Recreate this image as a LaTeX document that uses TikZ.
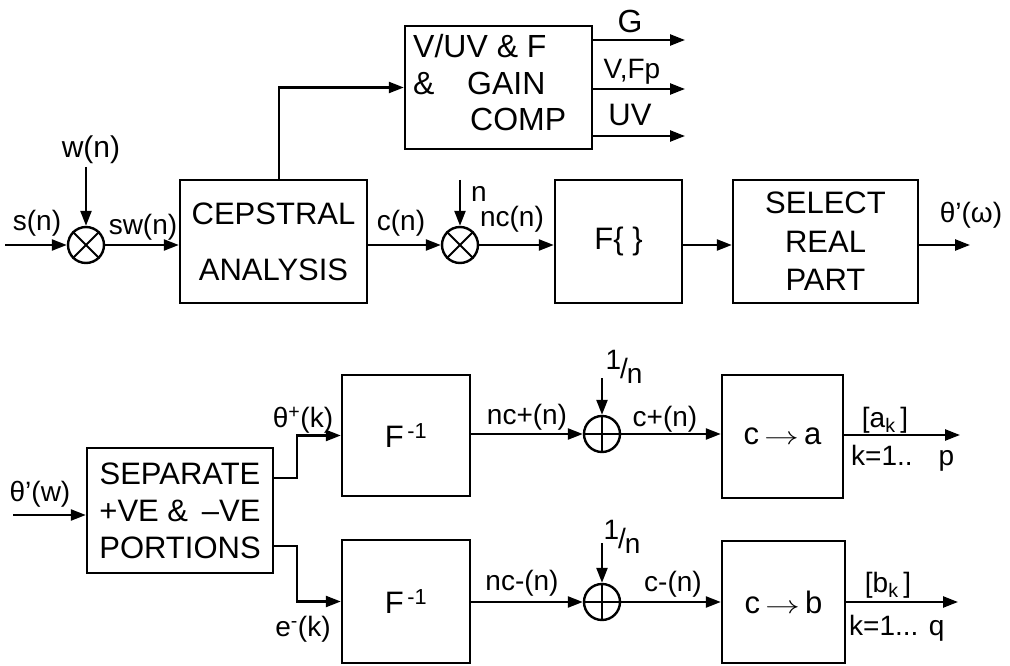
\documentclass[tikz,border=0pt]{standalone}
\usepackage{fontspec}
\setmainfont{Liberation Sans}
\usetikzlibrary{arrows.meta}
\begin{document}
\begin{tikzpicture}[x=1pt,y=-1pt,
  blk/.style={draw, line width=2.4pt, inner sep=0pt, align=center, font=\fontsize{31}{38}\selectfont},
  lbl/.style={font=\fontsize{28}{30}\selectfont, inner sep=0pt},
  wire/.style={line width=2.4pt},
  arr/.style={wire, -{Triangle[length=15pt,width=11pt]}},
  junc/.style={circle, draw, line width=2.4pt, minimum size=36pt, inner sep=0pt},
  crossline/.style={line width=2pt}
]
\useasboundingbox (0,0) rectangle (1010,666);

% ---------- top row ----------
\node[junc] (mul1) at (86,245) {};
\draw[crossline] (mul1.45) -- (mul1.225) (mul1.135) -- (mul1.315);
\node[blk, minimum width=187pt, minimum height=123pt, font=\fontsize{31}{56}\selectfont] (cep) at (273.5,241.5) {CEPSTRAL\\ANALYSIS};
\node[draw, line width=2.4pt, minimum width=187pt, minimum height=123pt] (vuv) at (498.5,87.5) {};
\node[align=left, inner sep=0pt, anchor=west, font=\fontsize{32}{36.5}\selectfont] (vuvt) at (413,83) {V/UV \& F\\\makebox[54pt][l]{\&}GAIN\\\hspace*{57pt}COMP};
\node[junc] (mul2) at (460,245) {};
\draw[crossline] (mul2.45) -- (mul2.225) (mul2.135) -- (mul2.315);
\node[blk, minimum width=127pt, minimum height=123pt] (ff) at (618.5,241.5) {F\{ \}};
\node[blk, minimum width=185pt, minimum height=123pt, font=\fontsize{31}{38.5}\selectfont] (sel) at (825.5,241.5) {SELECT\\REAL\\PART};

\coordinate (sin) at (5,245);
\coordinate (wtop) at (86,167);
\coordinate (brk) at (279,88);
\coordinate (gend) at (685,40);
\coordinate (vend) at (685,89);
\coordinate (uend) at (685,136);
\coordinate (ntop) at (460,180);
\coordinate (thout) at (970,245);

\draw[arr] (sin) -- (mul1);
\draw[arr] (wtop) -- (mul1);
\draw[arr] (mul1) -- (mul1 -| cep.west);
\draw[arr] (brk |- cep.north) -- (brk |- vuv.west) -- (vuv.west);
\draw[arr] (gend -| vuv.east) -- (gend);
\draw[arr] (vend -| vuv.east) -- (vend);
\draw[arr] (uend -| vuv.east) -- (uend);
\draw[arr] (mul2 -| cep.east) -- (mul2);
\draw[arr] (ntop) -- (mul2);
\draw[arr] (mul2) -- (mul2 -| ff.west);
\draw[arr] (mul2 -| ff.east) -- (mul2 -| sel.west);
\draw[arr] (thout -| sel.east) -- (thout);

\node[lbl] (lsn) at (37,223) {s(n)};
\node[lbl, font=\fontsize{30}{30}\selectfont] (lwn) at (91,150) {w(n)};
\node[lbl] (lswn) at (143,227) {sw(n)};
\node[lbl] (lcn) at (401,223) {c(n)};
\node[lbl] (ln) at (479,194) {n};
\node[lbl] (lncn) at (512,219) {nc(n)};
\node[lbl, font=\fontsize{32}{32}\selectfont] (lg) at (630,21) {G};
\node[lbl] (lvf) at (632,72) {V,Fp};
\node[lbl, font=\fontsize{31}{31}\selectfont] (luv) at (630,115) {UV};
\node[lbl] (lth) at (971,215) {θ’(ω)};

% ---------- bottom rows ----------
\node[blk, minimum width=186pt, minimum height=125pt, font=\fontsize{31}{37}\selectfont] (sep) at (180,510.5) {SEPARATE\\+VE \& \,--VE\\PORTIONS};
\node[blk, minimum width=128pt, minimum height=121pt] (fi1) at (406,435.5) {F\textsuperscript{\,-1}};
\node[blk, minimum width=128pt, minimum height=123pt] (fi2) at (406,601.5) {F\textsuperscript{\,-1}};
\node[junc] (add1) at (602,434) {};
\draw[crossline] (add1.north) -- (add1.south) (add1.west) -- (add1.east);
\node[junc] (add2) at (602,602) {};
\draw[crossline] (add2.north) -- (add2.south) (add2.west) -- (add2.east);
\node[blk, minimum width=121pt, minimum height=123pt] (ca) at (782.5,436.5) {c\,\scalebox{1.4}[1]{$\rightarrow$}\,a};
\node[blk, minimum width=123pt, minimum height=122pt] (cb) at (783.5,602) {c\,\scalebox{1.4}[1]{$\rightarrow$}\,b};

\coordinate (thin) at (13,515);
\coordinate (up) at (297,478);
\coordinate (dn) at (297,546);
\coordinate (in1) at (602,378);
\coordinate (in2) at (602,543);
\coordinate (aout) at (960,435);
\coordinate (bout) at (958,602);

\draw[arr] (thin) -- (thin -| sep.west);
\draw[arr] (up -| sep.east) -- (up) -- (up |- fi1.west) -- (fi1.west);
\draw[arr] (dn -| sep.east) -- (dn) -- (dn |- fi2.west) -- (fi2.west);
\draw[arr] (add1 -| fi1.east) -- (add1);
\draw[arr] (in1) -- (add1);
\draw[arr] (add1) -- (add1 -| ca.west);
\draw[arr] (aout -| ca.east) -- (aout);
\draw[arr] (add2 -| fi2.east) -- (add2);
\draw[arr] (in2) -- (add2);
\draw[arr] (add2) -- (add2 -| cb.west);
\draw[arr] (bout -| cb.east) -- (bout);

\node[lbl] (lthw) at (40,494) {θ’(w)};
\node[lbl] (lthp) at (303,420) {θ\textsuperscript{+}(k)};
\node[lbl] (lem) at (303,629) {e\textsuperscript{-}(k)};
\node[lbl] (lncp) at (527,417) {nc+(n)};
\node[lbl] (lonep) at (624,367) {\raisebox{9pt}{1}\kern-1pt/\kern-1pt\raisebox{-5pt}{n}};
\node[lbl] (lcp) at (665,419) {c+(n)};
\node[lbl] (lak) at (885,420) {[a\textsubscript{k}\,]};
\node[lbl, anchor=west] (lkp) at (851,458) {k=1..\hspace{26pt}p};
\node[lbl] (lncm) at (522,583) {nc-(n)};
\node[lbl] (lonem) at (622,537) {\raisebox{9pt}{1}\kern-1pt/\kern-1pt\raisebox{-5pt}{n}};
\node[lbl] (lcm) at (673,584) {c-(n)};
\node[lbl] (lbk) at (888,585) {[b\textsubscript{k}\,]};
\node[lbl, anchor=west] (lkq) at (849,628) {k=1... q};
\end{tikzpicture}
\end{document}
